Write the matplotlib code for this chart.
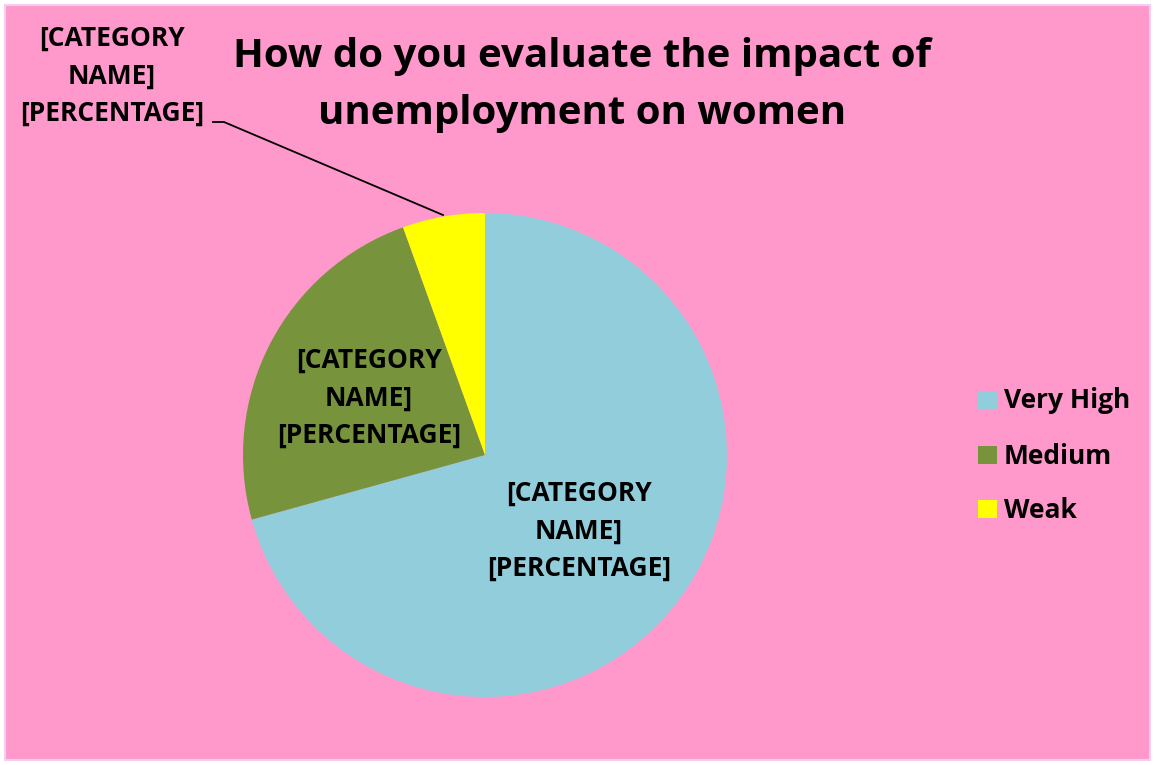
import matplotlib.pyplot as plt
from matplotlib.patches import Rectangle

categories = ["Very High", "Medium", "Weak"]
values = [70.7, 23.8, 5.5]
colors = ["#92CDDC", "#77933C", "#FFFF00"]
title = "How do you evaluate the impact of\nunemployment on women"
label_text = "[CATEGORY\nNAME]\n[PERCENTAGE]"

W, H = 1155, 765
fig = plt.figure(figsize=(W / 100, H / 100), dpi=100)
fig.patch.set_facecolor("white")
fig.patches.append(Rectangle((5 / W, 5 / H), (W - 10) / W, (H - 10) / H,
                             transform=fig.transFigure, facecolor="#FF99CC",
                             edgecolor="#F0D0F0", linewidth=1.5, zorder=-5))

font = "Open Sans"
cx, cy, r = 485, 455, 242
ax = fig.add_axes([(cx - r) / W, (H - cy - r) / H, 2 * r / W, 2 * r / H])
ax.set_zorder(1)
ax.set_facecolor("none")
wedges, _ = ax.pie(values, colors=colors, startangle=90, counterclock=False,
                   radius=1.0, wedgeprops=dict(linewidth=0))
ax.set_xlim(-1, 1)
ax.set_ylim(-1, 1)
ax.set_aspect("equal")
ax.axis("off")

def px(x, y):
    return x / W, 1 - y / H

lab_kw = dict(fontsize=19, fontweight="bold", family=font, ha="center",
              va="center", linespacing=1.5, transform=fig.transFigure, zorder=5)
fig.text(*px(579, 531), label_text, **lab_kw)
fig.text(*px(369, 398), label_text, **lab_kw)
fig.text(*px(112, 76), label_text, **lab_kw)
fig.lines.append(plt.Line2D([213 / W, 224 / W, 443 / W],
                            [1 - 122 / H, 1 - 122 / H, 1 - 215 / H],
                            transform=fig.transFigure, color="black", lw=1.3,
                            zorder=5))

fig.text(*px(582, 85), title, fontsize=29, fontweight="bold", family=font,
         ha="center", va="center", linespacing=1.58)

# legend drawn from categories/colors
leg_y = [400, 455, 509]
for name, c, y in zip(categories, colors, leg_y):
    fig.patches.append(Rectangle((978 / W, 1 - (y + 9) / H), 19 / W, 18 / H,
                                 transform=fig.transFigure, facecolor=c,
                                 edgecolor="none", zorder=5))
    fig.text(1004 / W, 1 - (y + 1) / H, name, fontsize=19, fontweight="bold",
             family=font, ha="left", va="center")

fig.savefig("out.png", dpi=100, facecolor=fig.get_facecolor())
